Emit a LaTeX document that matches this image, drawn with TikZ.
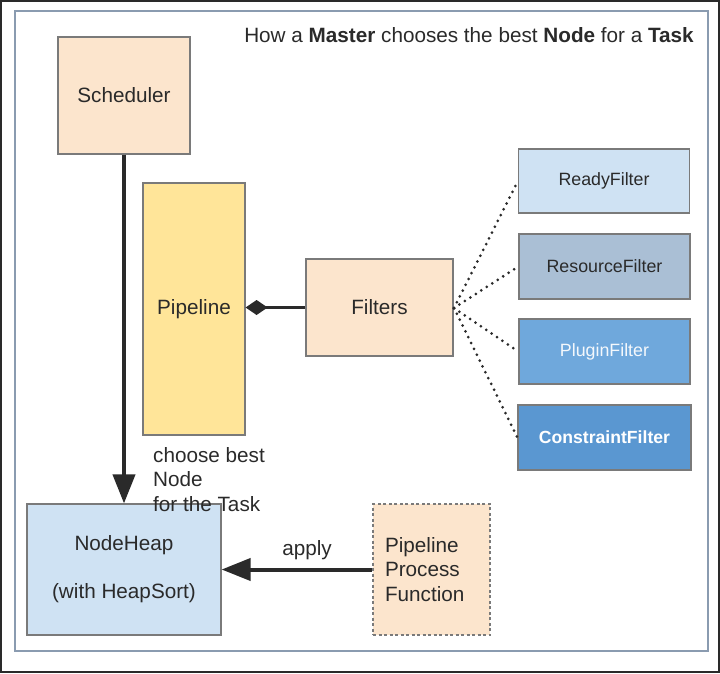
\documentclass[tikz,border=0pt]{standalone}
\usepackage{fontspec}
\setmainfont{Liberation Sans}
\usetikzlibrary{arrows.meta}
\definecolor{peach}{HTML}{FCE5CD}
\definecolor{pyellow}{HTML}{FFE599}
\definecolor{lblue}{HTML}{CFE2F3}
\definecolor{gblue}{HTML}{AABFD5}
\definecolor{mblue}{HTML}{6FA8DC}
\definecolor{dblue}{HTML}{5A97D1}
\definecolor{edge}{HTML}{7A7A7A}
\definecolor{ink}{HTML}{2A2A2A}
\definecolor{framec}{HTML}{8A9BB0}
\tikzset{
  box/.style={draw=edge, line width=1.2pt, rectangle, inner sep=0pt, text=ink,
    font=\fontsize{20.7}{24.5}\selectfont, align=center},
  fbox/.style={box, font=\fontsize{17.8}{21}\selectfont},
  bigarrow/.style={draw=ink, line width=4pt, -{Triangle[length=29pt,width=22pt]}},
  dotline/.style={draw=ink, line width=3pt, line cap=round, dash pattern=on 0pt off 6.5pt},
  lbl/.style={text=ink, font=\fontsize{20.7}{24.5}\selectfont, inner sep=0pt}
}
\begin{document}
\begin{tikzpicture}[x=1pt,y=-1pt]
\useasboundingbox (0,0) rectangle (720,673);
\fill[white] (0,0) rectangle (720,673);
\draw[ink, line width=2pt] (1,1) rectangle (719,672);
\draw[framec, line width=1.3pt] (15,11) rectangle (708,651);

\node[lbl] (title) at (469,35) {How a \textbf{Master} chooses the best \textbf{Node} for a \textbf{Task}};

\node[box, fill=peach, minimum width=132pt, minimum height=117pt] (sched) at (124,95.5) {Scheduler};
\node[box, fill=pyellow, minimum width=102pt, minimum height=252pt] (pipe) at (194,309) {Pipeline};
\node[box, fill=peach, minimum width=147pt, minimum height=97pt] (filt) at (379.5,307.5) {Filters};

\node[fbox, fill=lblue, minimum width=171pt, minimum height=64pt] (ready) at (604,181) {ReadyFilter};
\node[fbox, fill=gblue, minimum width=171pt, minimum height=65pt] (res) at (604.5,266.5) {ResourceFilter};
\node[fbox, fill=mblue, text=white!92!mblue, minimum width=171pt, minimum height=65pt] (plug) at (604.5,351.5) {PluginFilter};
\node[fbox, fill=dblue, text=white, minimum width=173pt, minimum height=65pt, font=\fontsize{17.6}{21}\selectfont\bfseries] (cons) at (604.5,437.5) {ConstraintFilter};

\node[box, fill=lblue, minimum width=194pt, minimum height=131pt] (heap) at (124,569.5) {NodeHeap\\[23.5pt](with HeapSort)};
\node[box, fill=peach, dashed, dash pattern=on 3pt off 2.5pt, minimum width=117pt, minimum height=131pt,
  text width=93pt, inner xsep=12pt, align=left] (ppf) at (431.5,569.5) {Pipeline\\Process\\Function};

\node[lbl, anchor=north west, align=left] (choose) at (153,447) {choose best\\Node\\for the Task};
\node[lbl] (apply) at (307,550) {apply};

\draw[bigarrow] (sched.south) -- (heap.north);
\draw[bigarrow] (ppf.west) -- (heap.east);
\draw[draw=ink, line width=3pt, {Diamond[length=22pt,width=15pt]}-] (filt.west -| pipe.east) -- (filt.west);

\coordinate (fr) at (454,308);
\draw[dotline] (fr) -- (ready.west);
\draw[dotline] (fr) -- (res.west);
\draw[dotline] (fr) -- (plug.west);
\draw[dotline] (fr) -- (cons.west);
\end{tikzpicture}
\end{document}
